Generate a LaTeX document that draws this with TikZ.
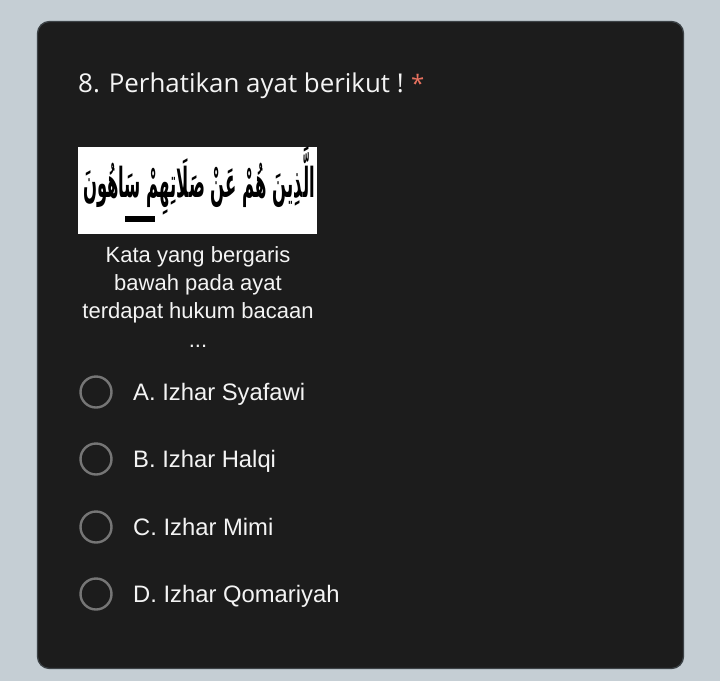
\documentclass[tikz,border=0pt]{standalone}
\usepackage{fontspec}
\usepackage{graphicx}
\setmainfont{Liberation Sans}
\newfontfamily\titlefont{Open Sans}
\newfontfamily\arabicfont[Script=Arabic]{DejaVu Sans}
\TeXXeTstate=1
\definecolor{pagebg}{HTML}{C5CED4}
\definecolor{cardbg}{HTML}{1C1C1C}
\definecolor{cardline}{HTML}{3C4246}
\definecolor{ringgray}{HTML}{767676}
\definecolor{reqred}{HTML}{E8715F}
\definecolor{txt}{HTML}{F4F4F4}
\tikzset{
  optring/.style={draw=ringgray, line width=2.4pt, circle, minimum size=31pt, inner sep=0pt},
  opttext/.style={anchor=base west, inner sep=0pt, text=txt, font=\fontsize{23.8}{28}\selectfont},
  bodytext/.style={anchor=base, inner sep=0pt, text=txt, font=\fontsize{22}{28}\selectfont},
}
\begin{document}
\begin{tikzpicture}[x=1pt,y=-1pt]
\fill[pagebg] (0,0) rectangle (720,681);
\draw[cardline, fill=cardbg, rounded corners=12pt, line width=1.3pt] (37.5,21.5) rectangle (683.5,668.5);
% title
\node[anchor=base west, inner sep=0pt, text=txt, font=\titlefont\fontsize{25.9}{30}\selectfont] (title) at (78,92.5) {8. Perhatikan ayat berikut !};
\node[anchor=base west, inner sep=0pt, text=reqred, font=\titlefont\fontsize{24}{28}\selectfont] (req) at (411,92.5) {*};
% image
\node[fill=white, minimum width=239pt, minimum height=87pt, inner sep=0pt, anchor=north west] (img) at (78,147) {};
\node[inner sep=0pt, text=black, font=\arabicfont\bfseries\fontsize{25}{30}\selectfont] (ayat) at (199,181) {\resizebox{232pt}{51pt}{\beginR الَّذِينَ هُمْ عَنْ صَلَاتِهِمْ سَاهُونَ\endR}};
\fill[black] (125,216) rectangle (155,222);
% body
\node[bodytext] (l1) at (198,262) {Kata yang bergaris};
\node[bodytext] (l2) at (198,290.5) {bawah pada ayat};
\node[bodytext] (l3) at (198,318.5) {terdapat hukum bacaan};
\node[bodytext] (l4) at (198,347) {...};
% options
\node[optring] (ra) at (96,392) {};
\node[opttext] (ta) at (133,400) {A. Izhar Syafawi};
\node[optring] (rb) at (96,459) {};
\node[opttext] (tb) at (133,467) {B. Izhar Halqi};
\node[optring] (rc) at (96,527) {};
\node[opttext] (tc) at (133,535) {C. Izhar Mimi};
\node[optring] (rd) at (96,594) {};
\node[opttext] (td) at (133,602) {D. Izhar Qomariyah};
\end{tikzpicture}
\end{document}
